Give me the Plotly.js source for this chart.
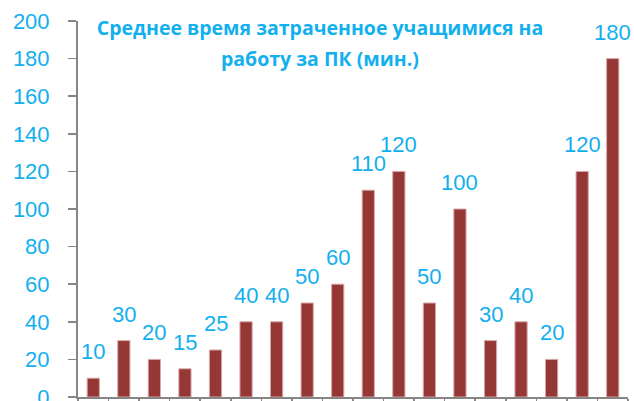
<!DOCTYPE html>
<html>
<head>
<meta charset="utf-8">
<script src="https://cdn.plot.ly/plotly-3.0.1.min.js"></script>
<style>html,body{margin:0;padding:0;background:#fff;}#chart{width:634px;height:401px;}</style>
</head>
<body>
<div id="chart"></div>
<script>
const categories = ['Уч. 1','Уч. 2','Уч. 3','Уч. 4','Уч. 5','Уч. 6','Уч. 7','Уч. 8','Уч. 9','Уч. 10','Уч. 11','Уч. 12','Уч. 13','Уч. 14','Уч. 15','Уч. 16','Уч. 17','Уч. 18'];
const minutes = [10,30,20,15,25,40,40,50,60,110,120,50,100,30,40,20,120,180];
const yTicks = [0,20,40,60,80,100,120,140,160,180,200];
const titleLine1 = 'Среднее время затраченное учащимися на';
const titleLine2 = 'работу за ПК (мин.)';

const blue = '#12B0EE';
const fontFam = '"Liberation Sans", Arial, sans-serif';
const titleFont = {family: '"Open Sans", sans-serif', size: 19.5, color: blue, weight: 'bold'};

const trace = {
  type: 'bar',
  x: categories,
  y: minutes,
  marker: {color: '#953735', line: {color: '#D8A8A8', width: 1}},
  hoverinfo: 'none'
};

const annotations = categories.map((c, i) => ({
  x: i, y: minutes[i], xref: 'x', yref: 'y',
  text: String(minutes[i]), showarrow: false,
  yanchor: 'bottom', yshift: 12,
  font: {family: fontFam, size: 22, color: blue}
}));
annotations.push({
  text: titleLine2, showarrow: false,
  xref: 'paper', yref: 'paper', x: 0.44, y: 1.0, yshift: -37,
  xanchor: 'center', yanchor: 'middle',
  font: titleFont
});

const layout = {
  width: 634, height: 401,
  margin: {l: 78, r: 6, t: 21, b: 4},
  paper_bgcolor: '#fff', plot_bgcolor: '#fff',
  bargap: 0.6,
  showlegend: false,
  title: {
    text: titleLine1,
    x: 320/634, xanchor: 'center', xref: 'container',
    y: 1 - 28/401, yanchor: 'middle', yref: 'container',
    font: titleFont
  },
  xaxis: {
    type: 'category',
    showticklabels: false,
    showline: true, linecolor: '#868686', linewidth: 2,
    ticks: 'outside', tickson: 'boundaries', ticklen: 6, tickcolor: '#868686', tickwidth: 1.5,
    showgrid: false, zeroline: false,
    range: [-0.5, 17.5]
  },
  yaxis: {
    range: [0, 200],
    tickvals: yTicks,
    ticks: 'outside', ticklen: 8, tickcolor: '#868686', tickwidth: 1.5,
    showline: true, linecolor: '#868686', linewidth: 2,
    showgrid: false, zeroline: false,
    ticklabelstandoff: 14,
    ticklabeloverflow: 'allow',
    tickfont: {family: fontFam, size: 22, color: blue}
  },
  annotations: annotations
};

Plotly.newPlot('chart', [trace], layout, {staticPlot: true, displayModeBar: false});
</script>
</body>
</html>
